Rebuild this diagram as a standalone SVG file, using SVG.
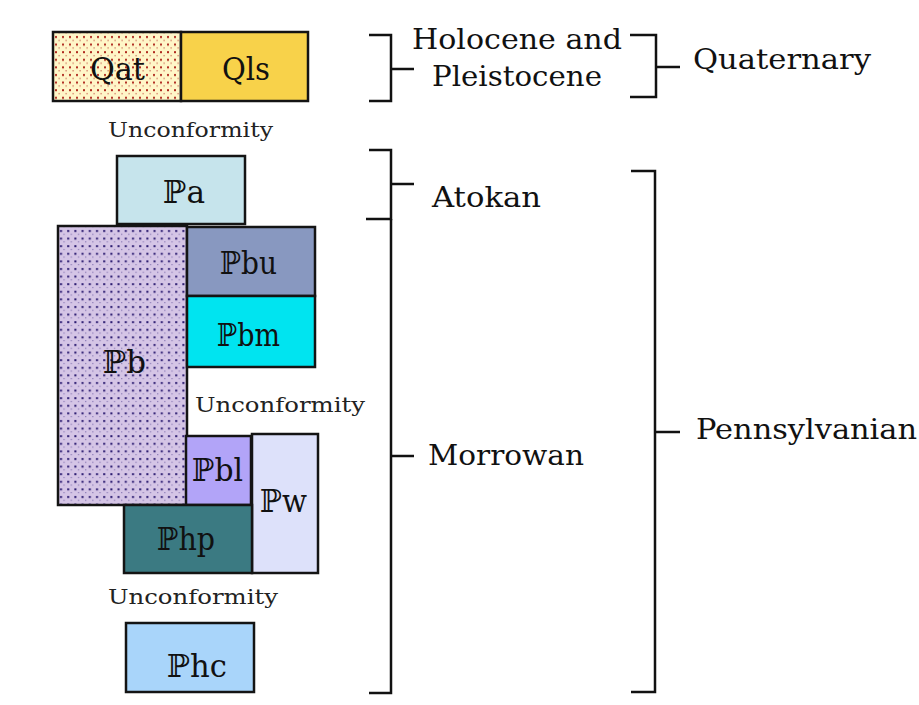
<svg xmlns="http://www.w3.org/2000/svg" width="919" height="705" viewBox="0 0 919 705">
<defs>
<pattern id="dotsRed" width="7" height="7.6" patternUnits="userSpaceOnUse" x="53" y="34">
<rect width="7" height="7.6" fill="#fff6c8"/>
<rect x="2" y="2" width="2" height="2" fill="#b02a20"/>
<rect x="5.5" y="5.8" width="1.2" height="1.2" fill="#c86050"/>
</pattern>
<pattern id="dotsPurple" width="7.2" height="7.6" patternUnits="userSpaceOnUse" x="58" y="228">
<rect width="7.2" height="7.6" fill="#d5c5e6"/>
<rect x="2" y="2" width="2" height="2" fill="#2a1a70"/>
<rect x="5.6" y="5.8" width="1" height="1" fill="#6a5aa0"/>
</pattern>
<style>
.box{stroke:#141414;stroke-width:2.5}
.lbl{font-family:"DejaVu Serif","Liberation Serif",serif;font-size:32px;fill:#111}
.unc{font-family:"DejaVu Serif","Liberation Serif",serif;font-size:21px;fill:#222}
.age{font-family:"DejaVu Serif","Liberation Serif",serif;font-size:28px;fill:#111}
.br{fill:none;stroke:#111;stroke-width:2.5}
</style>
</defs>
<rect width="919" height="705" fill="#ffffff"/>

<g id="Qat"><rect class="box" x="53" y="32" width="128" height="69" fill="url(#dotsRed)"/><text class="lbl" x="90" y="80" textLength="55" lengthAdjust="spacingAndGlyphs">Qat</text></g>
<g id="Qls"><rect class="box" x="181" y="32" width="127" height="69" fill="#f8d24a"/><text class="lbl" x="222" y="80" textLength="48" lengthAdjust="spacingAndGlyphs">Qls</text></g>
<text id="unc1" class="unc" x="108" y="137" textLength="165" lengthAdjust="spacingAndGlyphs">Unconformity</text>

<g id="Pa"><rect class="box" x="117" y="156" width="128" height="68" fill="#c6e4ec"/><text class="lbl" x="163" y="203" textLength="42" lengthAdjust="spacingAndGlyphs">ℙa</text></g>
<g id="Pb"><rect class="box" x="58" y="226" width="129" height="279" fill="url(#dotsPurple)"/><text class="lbl" x="103" y="373" textLength="43" lengthAdjust="spacingAndGlyphs">ℙb</text></g>
<g id="Pbu"><rect class="box" x="187" y="227" width="128" height="69" fill="#8898c0"/><text class="lbl" x="220" y="274" textLength="57" lengthAdjust="spacingAndGlyphs">ℙbu</text></g>
<g id="Pbm"><rect class="box" x="187" y="296" width="128" height="71" fill="#00e4f0"/><text class="lbl" x="217" y="346" textLength="63" lengthAdjust="spacingAndGlyphs">ℙbm</text></g>
<text id="unc2" class="unc" x="195" y="412" textLength="170" lengthAdjust="spacingAndGlyphs">Unconformity</text>
<g id="Pbl"><rect class="box" x="186" y="436" width="65" height="69" fill="#b2a4f8"/><text class="lbl" x="192" y="481" textLength="51" lengthAdjust="spacingAndGlyphs">ℙbl</text></g>
<g id="Pw"><rect class="box" x="252" y="434" width="66" height="139" fill="#dde1fa"/><text class="lbl" x="260" y="512" textLength="47" lengthAdjust="spacingAndGlyphs">ℙw</text></g>
<g id="Php"><rect class="box" x="124" y="505" width="128" height="68" fill="#3b7a82"/><text class="lbl" x="157" y="550" textLength="58" lengthAdjust="spacingAndGlyphs">ℙhp</text></g>
<text id="unc3" class="unc" x="108" y="604" textLength="170" lengthAdjust="spacingAndGlyphs">Unconformity</text>
<g id="Phc"><rect class="box" x="126" y="623" width="128" height="69" fill="#a9d5fa"/><text class="lbl" x="167" y="677" textLength="60" lengthAdjust="spacingAndGlyphs">ℙhc</text></g>

<g id="connectors">
<path class="br" d="M369 35 H391 V101 H369 M391 69 H414"/>
<path class="br" d="M630 35 H656 V97 H630 M656 67 H680"/>
<path class="br" d="M369 150 H391 V219 H366 M391 184 H414"/>
<path class="br" d="M391 219 V693 H369 M391 456 H414"/>
<path class="br" d="M631 171 H655 V692 H631 M655 432 H680"/>
</g>

<g id="labels">
<text class="age" x="412" y="49" textLength="210" lengthAdjust="spacingAndGlyphs">Holocene and</text>
<text class="age" x="432" y="86" textLength="170" lengthAdjust="spacingAndGlyphs">Pleistocene</text>
<text class="age" x="693" y="69" textLength="178" lengthAdjust="spacingAndGlyphs">Quaternary</text>
<text class="age" x="432" y="207" textLength="109" lengthAdjust="spacingAndGlyphs">Atokan</text>
<text class="age" x="428" y="465" textLength="156" lengthAdjust="spacingAndGlyphs">Morrowan</text>
<text class="age" x="696" y="439" textLength="221" lengthAdjust="spacingAndGlyphs">Pennsylvanian</text>
</g>
</svg>
